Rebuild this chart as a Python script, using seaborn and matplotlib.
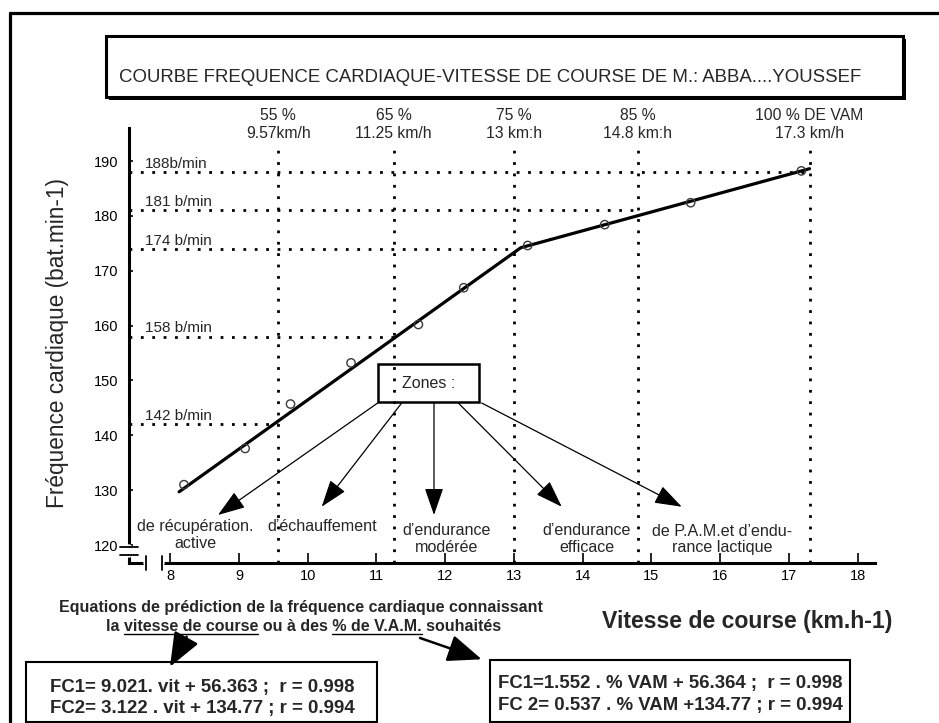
import matplotlib
matplotlib.use("Agg")
import matplotlib.pyplot as plt
import matplotlib.transforms as mtransforms
import seaborn as sns
import pandas as pd
from matplotlib.lines import Line2D
from matplotlib.patches import Rectangle, FancyArrowPatch

# measured points : running speed (km/h) and heart rate (b/min)
speed = [8.2, 9.09, 9.75, 10.63, 11.61, 12.27, 13.2, 14.32, 15.57, 17.18]
heart_rate = [131.0, 137.6, 145.7, 153.2, 160.2, 166.9, 174.6, 178.4, 182.4, 188.2]

# the two regression segments as drawn (FC1 then FC2)
fit_speed = [8.13, 13.1, 17.3]
fit_hr = [129.7, 174.2, 188.6]

# % VAM thresholds
zone_speed = [9.57, 11.25, 13, 14.8, 17.3]
zone_hr = [142, 158, 174, 181, 188]
pct_labels = ["55 %", "65 %", "75 %", "85 %", "100 % DE VAM"]
speed_labels = ["9.57km/h", "11.25 km/h", "13 km:h", "14.8 km:h", "17.3 km/h"]
hr_labels = ["142 b/min", "158 b/min", "174 b/min", "181 b/min", "188b/min"]
zone_names = [
    "de récupération.\nactive",
    "d’échauffement",
    "d’endurance\nmodérée",
    "d’endurance\nefficace",
    "de P.A.M.et d’endu-\nrance lactique",
]

x_ticks = list(range(8, 19))
y_ticks = list(range(120, 191, 10))

title = "COURBE FREQUENCE CARDIAQUE-VITESSE DE COURSE DE M.: ABBA....YOUSSEF"
eq_speed = ["FC1= 9.021. vit + 56.363 ;  r = 0.998",
            "FC2= 3.122 . vit + 134.77 ; r = 0.994"]
eq_vam = ["FC1=1.552 . % VAM + 56.364 ;  r = 0.998",
          "FC 2= 0.537 . % VAM +134.77 ; r = 0.994"]
note_1 = "Equations de prédiction de la fréquence cardiaque connaissant"
note_2 = "la vitesse de course ou à des % de V.A.M. souhaités"
note_2_underlined = ["vitesse de course", "% de V.A.M."]

sns.set_theme(style="white")
plt.rcParams["font.family"] = ["Liberation Sans", "DejaVu Sans"]

W, H = 939, 723
fig = plt.figure(figsize=(W / 100, H / 100), dpi=100)
ax = fig.add_axes([129 / W, 1 - 563 / H, 746 / W, 435 / H])
renderer = fig.canvas.get_renderer()


def fxy(x, y):
    # figure pixels (from top-left) -> figure fraction
    return (x / W, 1 - y / H)


def fit(txt, size_px, along="width"):
    bb = txt.get_window_extent(renderer)
    cur = bb.width if along == "width" else bb.height
    txt.set_fontsize(txt.get_fontsize() * size_px / cur)


pts = pd.DataFrame({"speed": speed, "hr": heart_rate})
seg = pd.DataFrame({"speed": fit_speed, "hr": fit_hr})

x_lo, x_hi = 7.4007, 18.2516
y_lo, y_hi = 116.72, 196.02
y_dots_top = 192.55
dot = (0, (1, 3.1))

# dotted guides
for zs, zh in zip(zone_speed, zone_hr):
    ax.plot([zs, zs], [y_lo, y_dots_top], color="black", lw=2.0, ls=dot, zorder=1)
    ax.plot([x_lo, zs], [zh, zh], color="black", lw=2.0, ls=dot, zorder=1)

sns.lineplot(data=seg, x="speed", y="hr", color="black", linewidth=2.3,
             sort=False, estimator=None, ax=ax, zorder=2)
sns.scatterplot(data=pts, x="speed", y="hr", marker="o", s=36,
                facecolor="none", edgecolor="#3a3a3a", linewidth=1.0,
                ax=ax, zorder=3)

ax.set_xlim(x_lo, x_hi)
ax.set_ylim(y_lo, y_hi)
ax.set_xticks(x_ticks)
ax.set_yticks(y_ticks)
for side in ["top", "right"]:
    ax.spines[side].set_visible(False)
for side in ["left", "bottom"]:
    ax.spines[side].set_linewidth(2.2)
    ax.spines[side].set_color("black")
ax.tick_params(axis="x", direction="in", length=7, width=1.2, pad=4.5,
               labelsize=10.5, colors="black", bottom=True)
ax.tick_params(axis="y", direction="in", length=3, width=1.2, pad=7.5,
               labelsize=10.5, colors="black", left=True)

# axis labels
ax.set_xlabel("Vitesse de course (km.h-1)", fontweight="bold", fontsize=16.5)
ax.xaxis.label.set_va("center")
ax.xaxis.set_label_coords((746.7 - 129) / 746, -(621.7 - 563) / 435)
ax.set_ylabel("Fréquence cardiaque (bat.min-1)", fontsize=16)
ax.yaxis.label.set_va("center")
ax.yaxis.set_label_coords((57.5 - 129) / 746, (563 - 343) / 435)
fit(ax.xaxis.label, 290)
fit(ax.yaxis.label, 330, along="height")

# axis breaks
brk = dict(color="black", lw=1.3, transform=ax.transAxes, clip_on=False)
ax.add_line(Line2D([0, 0], [0.018, 0.036], color="white", lw=4,
                   transform=ax.transAxes, clip_on=False, zorder=5))
for yb in [0.018, 0.036]:
    ax.add_line(Line2D([-0.0114, 0.0114], [yb, yb], zorder=6, **brk))
ax.add_line(Line2D([0.0224, 0.0438], [0, 0], color="white", lw=4,
                   transform=ax.transAxes, clip_on=False, zorder=5))
for xb in [0.0224, 0.0438]:
    ax.add_line(Line2D([xb, xb], [-0.0161, 0.0161], zorder=6, **brk))

# threshold annotations
for zh, lab in zip(zone_hr, hr_labels):
    ax.annotate(lab, xy=(0.021, zh), xycoords=ax.get_yaxis_transform(),
                xytext=(0, 3), textcoords="offset points",
                va="baseline", ha="left", fontsize=11)

top = mtransforms.blended_transform_factory(ax.transData, fig.transFigure)
for zs, p, s in zip(zone_speed, pct_labels, speed_labels):
    ax.text(zs, 1 - 115 / H, p, transform=top, ha="center", va="center", fontsize=11.3)
    ax.text(zs, 1 - 133 / H, s, transform=top, ha="center", va="center", fontsize=11.3)

# outer frame
fig.add_artist(Line2D([10 / W, 10 / W], [0, 1 - 12.7 / H], color="black", lw=2.3))
fig.add_artist(Line2D([10 / W, 1], [1 - 12.7 / H, 1 - 12.7 / H], color="black", lw=2.3))


def box(x0, y0, x1, y1, lw=1.5, **kw):
    fig.add_artist(Rectangle(fxy(x0, y1), (x1 - x0) / W, (y1 - y0) / H,
                             transform=fig.transFigure, lw=lw,
                             edgecolor="black", **kw))


# title box with a small drop shadow
box(109, 39, 906, 100, lw=0, facecolor="black")
box(106, 36, 903, 97, lw=2.2, facecolor="white")
t = fig.text(*fxy(490.5, 78), title, ha="center", va="center", fontsize=13.4)
fit(t, 745)

# zones box and arrows
box(377.7, 364, 479.3, 401.7, lw=1.8, fill=False)
fig.text(*fxy(428.5, 383), "Zones :", ha="center", va="center", fontsize=11.5)

zone_arrows = [((377.7, 403), (218, 515)), ((401.7, 403), (321.7, 506.7)),
               ((434, 403), (434, 515)), ((458.3, 403), (561.7, 506.7)),
               ((481.7, 403), (681.7, 506.7))]
for tail, head in zone_arrows:
    fig.add_artist(FancyArrowPatch(fxy(*tail), fxy(*head), transform=fig.transFigure,
                                   arrowstyle="-|>,head_length=1.3,head_width=0.45",
                                   mutation_scale=13, lw=0.9, color="black",
                                   shrinkA=0, shrinkB=0))

zone_pos = [(195, 535), (322.5, 526.7), (447, 539), (586.5, 539), (722, 539.5)]
for (zx, zy), name in zip(zone_pos, zone_names):
    fig.text(*fxy(zx, zy), name, ha="center", va="center", fontsize=11.6,
             multialignment="center", linespacing=1.1)

# equations note
n1 = fig.text(*fxy(301, 611.7), note_1, ha="center", va="baseline",
              fontsize=10.3, fontweight="bold")
fit(n1, 482)
fs_note = n1.get_fontsize()
n2 = fig.text(*fxy(106, 630.7), note_2, ha="left", va="baseline",
              fontsize=fs_note, fontweight="bold")


def width_of(s):
    tmp = fig.text(0, 0, s, fontsize=fs_note, fontweight="bold")
    w = tmp.get_window_extent(renderer).width
    tmp.remove()
    return w


for part in note_2_underlined:
    i = note_2.index(part)
    start = width_of(note_2[:i + 1]) - width_of(note_2[i])
    end = width_of(note_2[:i + len(part)])
    fig.add_artist(Line2D([(106 + start) / W, (106 + end) / W],
                          [1 - 633.5 / H, 1 - 633.5 / H], color="black", lw=1.0))

for tail, head in [((186.7, 636.7), (170, 666.7)), ((420, 638), (481.7, 659.3))]:
    fig.add_artist(FancyArrowPatch(fxy(*tail), fxy(*head), transform=fig.transFigure,
                                   arrowstyle="-|>,head_length=1.5,head_width=0.6",
                                   mutation_scale=14, lw=1.8, color="black",
                                   shrinkA=0, shrinkB=0))

# equation boxes
box(26, 661.7, 377, 722, lw=1.5, fill=False)
box(490, 660, 850, 722, lw=1.5, fill=False)
e1 = fig.text(*fxy(50, 691.7), eq_speed[0], va="baseline", fontweight="bold", fontsize=13)
fit(e1, 304)
fig.text(*fxy(50, 712.7), eq_speed[1], va="baseline", fontweight="bold",
         fontsize=e1.get_fontsize())
e3 = fig.text(*fxy(498, 688.3), eq_vam[0], va="baseline", fontweight="bold", fontsize=13)
fit(e3, 344)
fig.text(*fxy(498, 710), eq_vam[1], va="baseline", fontweight="bold",
         fontsize=e3.get_fontsize())

fig.savefig("out.png", dpi=100)
